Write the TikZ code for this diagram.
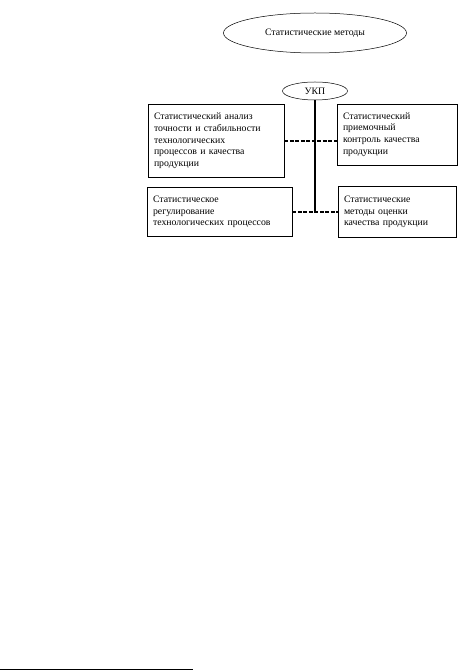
\documentclass[tikz,border=0pt]{standalone}
\usepackage{fontspec}
\setmainfont{Liberation Serif}
\usepackage{tikz}
\usetikzlibrary{positioning,shapes.geometric,shadows}

\begin{document}
\begin{tikzpicture}[x=1pt,y=1pt,
  every node/.style={font=\fontsize{9.8}{11.7}\selectfont},
  oval/.style={draw,ellipse,inner sep=0pt,line width=0.5pt},
  methbox/.style={draw,rectangle,line width=0.7pt,align=left,inner sep=0pt,
    fill=white,drop shadow={shadow xshift=0.8pt,shadow yshift=-0.8pt,fill=black,opacity=1}},
  link/.style={line width=1.2pt,dash pattern=on 4pt off 1.5pt}]
  \useasboundingbox (0,0) rectangle (461,670);
  \node[oval,minimum width=183,minimum height=40] (sm) at (315,637) {Статистические методы};
  \node[oval,minimum width=65,minimum height=18] (ukp) at (315,579) {УКП};
  % four branches
  \node[methbox,minimum width=136,minimum height=73,text width=124] (a) at (216,529)
    {Статистический анализ\\точности и стабильности\\технологических\\процессов и качества\\продукции};
  \node[methbox,minimum width=120,minimum height=61,text width=108] (b) at (397,535.5)
    {Статистический\\приемочный\\контроль качества\\продукции};
  \node[methbox,minimum width=145,minimum height=49,text width=133] (c) at (219.5,458)
    {Статистическое\\регулирование\\технологических процессов};
  \node[methbox,minimum width=118,minimum height=51,text width=106] (d) at (397,458)
    {Статистические\\методы оценки\\качества продукции};
  \coordinate (trunk) at (ukp |- c.east);
  \draw[line width=1.4pt] (ukp.south) -- (trunk);
  \draw[link] (a.east) -- (b.west |- a.east);
  \draw[link] (c.east) -- (d.west);
  % footnote rule
  \coordinate (fn1) at (0,1);
  \coordinate (fn2) at (193,1);
  \draw[line width=0.8pt] (fn1) -- (fn2);
\end{tikzpicture}
\end{document}
